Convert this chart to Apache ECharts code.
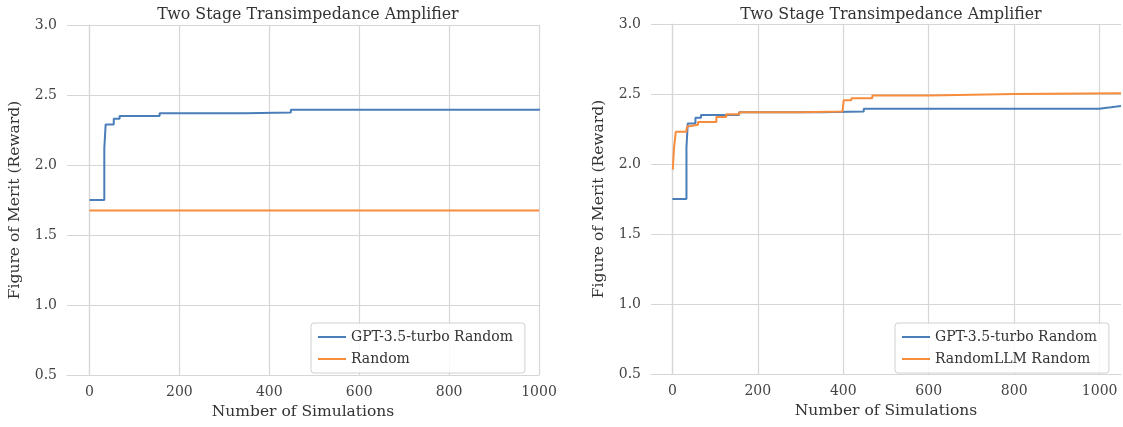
<!DOCTYPE html>
<html>
<head>
<meta charset="utf-8">
<script src="https://cdn.jsdelivr.net/npm/echarts@6/dist/echarts.min.js"></script>
<style>
  html, body { margin: 0; padding: 0; background: #fff; }
  #chart { width: 1123px; height: 427px; }
</style>
</head>
<body>
<div id="chart"></div>
<script>
// values: [simulations, best reward so far]
const gptRandom = [
  [0, 1.75], [33, 2.12], [36, 2.29], [54, 2.33], [67, 2.35], [156, 2.37],
  [347, 2.375], [448, 2.395], [1000, 2.40], [1012, 2.405], [1027, 2.41],
  [1040, 2.415], [1050, 2.42]
]
const plainRandom = [[0, 1.675], [1000, 1.675]]
const randomLLM = [
  [1, 1.96], [4, 2.12], [8, 2.23], [33, 2.245], [35, 2.27], [40, 2.28],
  [60, 2.30], [103, 2.335], [126, 2.355], [157, 2.37], [300, 2.375],
  [398, 2.38], [401, 2.455], [419, 2.47], [468, 2.49], [600, 2.50],
  [800, 2.505], [1050, 2.51]
]
const xTicks = [0, 200, 400, 600, 800, 1000]
const chartTitle = 'Two Stage Transimpedance Amplifier'

const BLUE = '#4a7eb8'
const ORANGE = '#f78d3c'
const GRID = '#d6d6d6'
const FONT = 'DejaVu Serif'

const chart = echarts.init(document.getElementById('chart'))

function xAxis(idx, max) {
  return {
    type: 'value', gridIndex: idx, min: -50, max: max,
    name: 'Number of Simulations', nameLocation: 'middle', nameGap: 29,
    nameTextStyle: { fontFamily: FONT, fontSize: 15.5, color: '#333' },
    axisLine: { show: true, lineStyle: { color: GRID, width: 1.2 } },
    axisTick: { show: false, customValues: xTicks },
    axisLabel: { customValues: xTicks, fontFamily: FONT, fontSize: 14, color: '#444', margin: 10,
      formatter: v => String(v) },
    splitLine: { show: true, lineStyle: { color: GRID, width: 1.2 } }
  }
}
function yAxis(idx) {
  return {
    type: 'value', gridIndex: idx, min: 0.5, max: 3.0, interval: 0.5,
    name: 'Figure of Merit (Reward)', nameLocation: 'middle', nameGap: 44,
    nameTextStyle: { fontFamily: FONT, fontSize: 15.5, color: '#333' },
    axisLine: { show: true, lineStyle: { color: GRID, width: 1.2 } },
    axisTick: { show: false },
    axisLabel: { fontFamily: FONT, fontSize: 14, color: '#444', margin: 10,
      formatter: v => v.toFixed(1) },
    splitLine: { show: true, lineStyle: { color: GRID, width: 1.2 } }
  }
}
function line(name, data, color, idx) {
  return {
    name: name, type: 'line', xAxisIndex: idx, yAxisIndex: idx,
    data: data, step: 'end', symbol: 'none', clip: true,
    lineStyle: { color: color, width: 2 }, itemStyle: { color: color }
  }
}
function legend(left, names) {
  return {
    data: names, orient: 'vertical', left: left, top: 323,
    icon: 'rect', itemWidth: 28, itemHeight: 2, itemGap: 8,
    padding: [7, 12, 7, 7], borderColor: '#d0d0d0', borderWidth: 1, borderRadius: 3,
    backgroundColor: 'rgba(255,255,255,0.85)',
    textStyle: { fontFamily: FONT, fontSize: 14, color: '#333' }
  }
}

chart.setOption({
  animation: false,
  title: [
    { text: chartTitle, left: 303, top: 2, textAlign: 'center',
      textStyle: { fontFamily: FONT, fontSize: 15.8, fontWeight: 'normal', color: '#333' } },
    { text: chartTitle, left: 886, top: 2, textAlign: 'center',
      textStyle: { fontFamily: FONT, fontSize: 15.8, fontWeight: 'normal', color: '#333' } }
  ],
  grid: [
    { left: 67, top: 25, width: 472, height: 350 },
    { left: 651, top: 24, width: 470, height: 350 }
  ],
  xAxis: [xAxis(0, 1000), xAxis(1, 1050)],
  yAxis: [yAxis(0), yAxis(1)],
  legend: [
    legend(311, ['GPT-3.5-turbo Random', 'Random']),
    legend(895, ['GPT-3.5-turbo Random', 'RandomLLM Random'])
  ],
  series: [
    line('GPT-3.5-turbo Random', gptRandom, BLUE, 0),
    line('Random', plainRandom, ORANGE, 0),
    line('GPT-3.5-turbo Random', gptRandom, BLUE, 1),
    line('RandomLLM Random', randomLLM, ORANGE, 1)
  ]
})
</script>
</body>
</html>
